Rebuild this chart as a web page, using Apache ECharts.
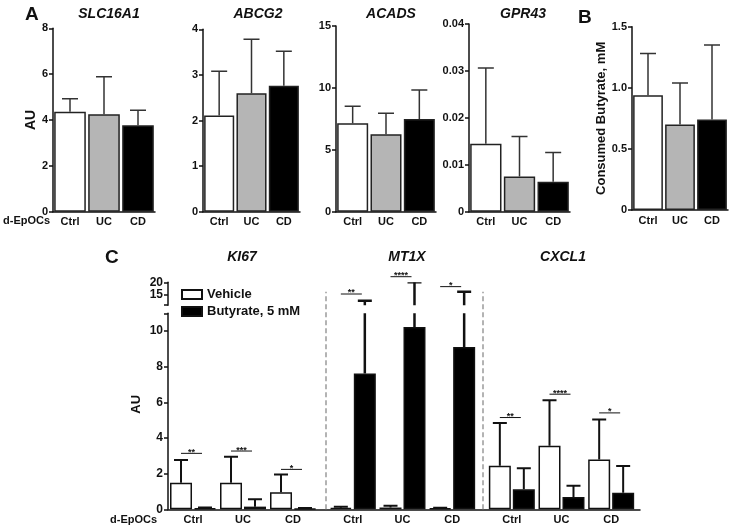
<!DOCTYPE html>
<html><head><meta charset="utf-8">
<script src="https://cdn.jsdelivr.net/npm/echarts@6/dist/echarts.min.js"></script>
<style>html,body{margin:0;padding:0;background:#fff}#c{width:729px;height:527px}</style>
</head><body><div id="c"></div>
<script>
// ---------------- DATA ----------------
const groups = ['Ctrl', 'UC', 'CD'];
// Panel A (mean, upper SD)
const slc16a1 = [4.36, 4.25, 3.77];
const slc16a1Sd = [0.57, 1.64, 0.65];
const abcg2 = [2.11, 2.60, 2.76];
const abcg2Sd = [0.97, 1.18, 0.76];
const acads = [7.14, 6.25, 7.49];
const acadsSd = [1.37, 1.70, 2.34];
const gpr43 = [0.0145, 0.0075, 0.0064];
const gpr43Sd = [0.0161, 0.0085, 0.0062];
// Panel B
const consumed = [0.94, 0.70, 0.74];
const consumedSd = [0.34, 0.34, 0.61];
// Panel C
const ki67Veh = [1.49, 1.49, 0.95];
const ki67VehSd = [1.27, 1.46, 1.01];
const ki67But = [0.06, 0.15, 0.04];
const ki67ButSd = [0.04, 0.41, 0.03];
const mt1xVeh = [0.08, 0.10, 0.05];
const mt1xVehSd = [0.07, 0.10, 0.03];
const mt1xBut = [7.62, 10.23, 9.11];
const mt1xButSd = [5.14, 9.77, 7.19];
const cxcl1Veh = [2.44, 3.56, 2.80];
const cxcl1VehSd = [2.41, 2.56, 2.24];
const cxcl1But = [1.12, 0.69, 0.93];
const cxcl1ButSd = [1.18, 0.63, 1.50];
// significance brackets (height in AU, label)
const ki67Sig = [3.14, 3.27, 2.24];
const ki67Stars = ['**', '***', '*'];
const mt1xSig = [15.4, 22.2, 18.3];
const mt1xStars = ['**', '****', '*'];
const cxcl1Sig = [5.15, 6.46, 5.41];
const cxcl1Stars = ['**', '****', '*'];
// axis ticks
const lowerTicks = [0, 2, 4, 6, 8, 10];
const upperTicks = [15, 20];
const separators = [1, 2];

// ---------------- STYLE ----------------
const FF = '"Liberation Sans", Arial, sans-serif';
const INK = '#111';
const fills = ['#ffffff', '#b5b5b5', '#000000'];
const lblStyle = { fontFamily: FF, fontWeight: 'bold', fontSize: 11, color: INK };
const axLine = { show: true, lineStyle: { color: INK, width: 1.5 } };
const axTick = { show: true, length: 4, lineStyle: { color: INK, width: 1.5 } };

const grids = [], xAxes = [], yAxes = [], series = [], titles = [];

function errSeries(xi, yi, vals, sds, offset, capHalf, lw, color) {
  return {
    type: 'custom', xAxisIndex: xi, yAxisIndex: yi, clip: true, z: 3, silent: true,
    data: vals.map((v, i) => [i, v, v + sds[i]]),
    renderItem(params, api) {
      const a = api.coord([api.value(0), api.value(1)]);
      const b = api.coord([api.value(0), api.value(2)]);
      const x = a[0] + offset;
      const st = { stroke: color, lineWidth: lw };
      return { type: 'group', children: [
        { type: 'line', shape: { x1: x, y1: a[1], x2: x, y2: b[1] }, style: st },
        { type: 'line', shape: { x1: x - capHalf, y1: b[1], x2: x + capHalf, y2: b[1] }, style: st }
      ]};
    }
  };
}
function sigSeries(xi, yi, heights, labels) {
  return {
    type: 'custom', xAxisIndex: xi, yAxisIndex: yi, clip: false, z: 4, silent: true,
    data: heights.map((h, i) => [i, h]),
    renderItem(params, api) {
      const p = api.coord([api.value(0), api.value(1)]);
      const x1 = p[0] - 12, x2 = p[0] + 9;
      return { type: 'group', children: [
        { type: 'line', shape: { x1: x1, y1: p[1], x2: x2, y2: p[1] }, style: { stroke: INK, lineWidth: 1 } },
        { type: 'text', x: (x1 + x2) / 2, y: p[1] - 1,
          style: { text: labels[params.dataIndex], fill: INK, font: 'bold 9px ' + FF, align: 'center', verticalAlign: 'middle' } }
      ]};
    }
  };
}

// Panel A / B single-series bar charts
function simplePanel(rect, vals, sds, yMin, yMax, yInt, fmt, yName, nameGap, nameSize) {
  grids.push(rect);
  const gi = grids.length - 1;
  xAxes.push({ type: 'category', gridIndex: gi, data: groups, axisLine: axLine, axisTick: { show: false },
    axisLabel: Object.assign({ margin: 5 }, lblStyle) });
  yAxes.push({ type: 'value', gridIndex: gi, min: yMin, max: yMax, interval: yInt,
    axisLine: axLine, axisTick: axTick, splitLine: { show: false },
    axisLabel: Object.assign({ margin: 5, formatter: fmt }, lblStyle),
    name: yName, nameLocation: 'middle', nameGap: nameGap, nameRotate: 90,
    nameTextStyle: { fontFamily: FF, fontWeight: 'bold', fontSize: nameSize, color: INK } });
  const xi = xAxes.length - 1, yi = yAxes.length - 1;
  series.push({ type: 'bar', xAxisIndex: xi, yAxisIndex: yi, silent: true, barCategoryGap: '7%',
    data: vals.map((v, i) => ({ value: v, itemStyle: { color: fills[i] } })),
    itemStyle: { borderColor: '#222', borderWidth: 1.5 } });
  series.push(errSeries(xi, yi, vals, sds, 0, 8, 1.5, '#333'));
}
const plain = v => String(v);
simplePanel({ left: 53, top: 28.3, width: 102, height: 183.4 }, slc16a1, slc16a1Sd, 0, 8, 2, plain, 'AU', 15, 14);
simplePanel({ left: 203, top: 29.3, width: 97, height: 182.4 }, abcg2, abcg2Sd, 0, 4, 1, plain, '', 20, 14);
simplePanel({ left: 336, top: 26, width: 100, height: 185.7 }, acads, acadsSd, 0, 15, 5, plain, '', 20, 14);
simplePanel({ left: 469, top: 24, width: 101, height: 187.7 }, gpr43, gpr43Sd, 0, 0.04, 0.01,
  v => v === 0 ? '0' : v.toFixed(2), '', 20, 14);
simplePanel({ left: 632, top: 26.7, width: 96, height: 183.3 }, consumed, consumedSd, 0, 1.5, 0.5,
  v => v === 0 ? '0' : v.toFixed(1), 'Consumed Butyrate, mM', 23, 13);

// ---------------- Panel C ----------------
const BW = 22, GAPF = 0.09;
const OFF = (BW + BW * GAPF) / 2;
const lowerTop = 313.3, lowerH = 196, upperTop = 282.3, upperH = 22.9;
const blocks = [
  { left: 168, width: 150, veh: ki67Veh, vehSd: ki67VehSd, but: ki67But, butSd: ki67ButSd, sig: ki67Sig, stars: ki67Stars, axis: true, upper: true },
  { left: 328, width: 149, veh: mt1xVeh, vehSd: mt1xVehSd, but: mt1xBut, butSd: mt1xButSd, sig: mt1xSig, stars: mt1xStars, axis: false, upper: true, sigUpper: true },
  { left: 487, width: 149, veh: cxcl1Veh, vehSd: cxcl1VehSd, but: cxcl1But, butSd: cxcl1ButSd, sig: cxcl1Sig, stars: cxcl1Stars, axis: false, upper: false }
];

// helper grid: continuous x axis line + dashed separators
grids.push({ left: 168, width: 472, top: 291.7, height: 509.3 - 291.7 });
{
  const gi = grids.length - 1;
  xAxes.push({ type: 'value', gridIndex: gi, min: 0, max: 3, axisLine: axLine, axisTick: { show: false },
    axisLabel: { show: false }, splitLine: { show: false } });
  yAxes.push({ type: 'value', gridIndex: gi, min: 0, max: 1, show: false, splitLine: { show: false } });
  series.push({ type: 'line', xAxisIndex: xAxes.length - 1, yAxisIndex: yAxes.length - 1, silent: true,
    data: [[0, 0]], showSymbol: false, lineStyle: { opacity: 0 },
    markLine: { silent: true, symbol: ['none', 'none'], label: { show: false },
      lineStyle: { color: '#9a9a9a', type: [5, 3], width: 1.5 },
      data: separators.map(s => ({ xAxis: s })) } });
}

blocks.forEach((b, k) => {
  // lower grid
  grids.push({ left: b.left, width: b.width, top: lowerTop, height: lowerH });
  let gi = grids.length - 1;
  xAxes.push({ type: 'category', gridIndex: gi, data: groups, axisLine: { show: false }, axisTick: { show: false },
    axisLabel: Object.assign({ margin: 5 }, lblStyle) });
  yAxes.push({ type: 'value', gridIndex: gi, min: 0, max: 11, show: b.axis,
    axisLine: axLine, axisTick: Object.assign({ customValues: lowerTicks.concat([11]) }, axTick),
    splitLine: { show: false },
    axisLabel: Object.assign({ margin: 5, customValues: lowerTicks }, lblStyle, { fontSize: 12 }),
    name: 'AU', nameLocation: 'middle', nameGap: 25, nameRotate: 90,
    nameTextStyle: { fontFamily: FF, fontWeight: 'bold', fontSize: 13, color: INK, padding: [0, 0, 0, 14] } });
  let xi = xAxes.length - 1, yi = yAxes.length - 1;
  series.push({ name: 'Vehicle', type: 'bar', xAxisIndex: xi, yAxisIndex: yi, silent: true,
    barWidth: BW, barGap: (GAPF * 100) + '%', data: b.veh,
    itemStyle: { color: '#ffffff', borderColor: INK, borderWidth: 1.5 } });
  series.push({ name: 'Butyrate, 5 mM', type: 'bar', xAxisIndex: xi, yAxisIndex: yi, silent: true,
    barWidth: BW, barGap: (GAPF * 100) + '%', data: b.but,
    itemStyle: { color: '#000000', borderColor: INK, borderWidth: 1.5 } });
  series.push(errSeries(xi, yi, b.veh, b.vehSd, -OFF, 7, 2, INK));
  series.push(errSeries(xi, yi, b.but, b.butSd, OFF, 7, k === 1 ? 2.5 : 2, INK));
  if (!b.sigUpper) series.push(sigSeries(xi, yi, b.sig, b.stars));

  if (b.upper) {
    grids.push({ left: b.left, width: b.width, top: upperTop, height: upperH });
    gi = grids.length - 1;
    xAxes.push({ type: 'category', gridIndex: gi, data: groups, show: false });
    yAxes.push({ type: 'value', gridIndex: gi, min: 11, max: 20, show: b.axis,
      axisLine: axLine, axisTick: Object.assign({ customValues: [11].concat(upperTicks) }, axTick),
      splitLine: { show: false },
      axisLabel: Object.assign({ margin: 5, customValues: upperTicks }, lblStyle, { fontSize: 12 }) });
    xi = xAxes.length - 1; yi = yAxes.length - 1;
    series.push(errSeries(xi, yi, b.veh, b.vehSd, -OFF, 7, 2, INK));
    series.push(errSeries(xi, yi, b.but, b.butSd, OFF, 7, k === 1 ? 2.5 : 2, INK));
    if (b.sigUpper) series.push(sigSeries(xi, yi, b.sig, b.stars));
  }
});

// ---------------- TITLES ----------------
function t(text, x, y, size, italic) {
  titles.push({ text: text, left: x, top: y, textAlign: italic ? 'center' : 'left',
    textStyle: { fontFamily: FF, fontWeight: 'bold', fontStyle: italic ? 'italic' : 'normal', fontSize: size, color: INK } });
}
t('A', 20, 0, 19, false);
t('B', 573, 3, 19, false);
t('C', 100, 243, 19, false);
t('SLC16A1', 104, 2, 14, true);
t('ABCG2', 253, 2, 14, true);
t('ACADS', 386, 2, 14, true);
t('GPR43', 518, 2, 14, true);
t('KI67', 237, 245, 14, true);
t('MT1X', 402, 245, 14, true);
t('CXCL1', 558, 245, 14, true);

const chart = echarts.init(document.getElementById('c'), null, { renderer: 'canvas' });
chart.setOption({
  animation: false,
  backgroundColor: '#ffffff',
  title: titles,
  grid: grids,
  xAxis: xAxes,
  yAxis: yAxes,
  series: series,
  legend: { data: ['Vehicle', 'Butyrate, 5 mM'], orient: 'vertical', left: 176, top: 283,
    itemWidth: 20, itemHeight: 9, itemGap: 4, icon: 'rect', selectedMode: false,
    textStyle: { fontFamily: FF, fontWeight: 'bold', fontSize: 13, color: INK } },
  graphic: [
    { type: 'text', left: 3, top: 215, style: { text: 'd-EpOCs', font: 'bold 11px ' + FF, fill: INK } },
    { type: 'text', left: 110, top: 514, style: { text: 'd-EpOCs', font: 'bold 11px ' + FF, fill: INK } }
  ]
});
</script>
</body></html>
